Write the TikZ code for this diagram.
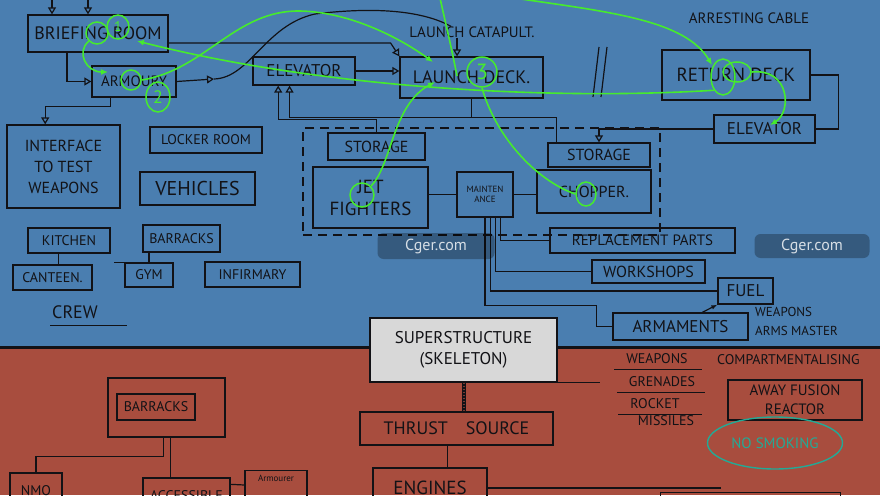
\documentclass[tikz,border=0pt]{standalone}
\usepackage{fontspec}
\setmainfont{PT Sans}
\usetikzlibrary{arrows.meta, positioning, calc, shapes.geometric}
\definecolor{DeckBlue}{RGB}{74, 126, 176}
\definecolor{HullRed}{RGB}{168, 77, 62}
\definecolor{Ink}{RGB}{18, 18, 22}
\definecolor{MarkGreen}{RGB}{70, 235, 45}
\definecolor{MarkTeal}{RGB}{35, 170, 150}
\definecolor{FrameGrey}{RGB}{216, 216, 216}
\newcommand{\handsz}[2]{\fontsize{#1}{#2}\selectfont}

\begin{document}
\begin{tikzpicture}[
        x = 1pt, y = -1pt,
        box/.style = {draw = Ink, line width = 1.3pt, inner sep = 0pt, align = center, text = Ink},
        lab/.style = {text = Ink, inner sep = 0pt, align = center},
        link/.style = {Ink, line width = 1.2pt},
        tri/.style = {link, -{Triangle[open, length = 7pt, width = 8pt, line width = 1.2pt]}},
        gline/.style = {MarkGreen, line width = 1.6pt},
        garr/.style = {gline, -{Latex[length = 7pt, width = 6pt]}},
        ring/.style = {draw = MarkGreen, line width = 1.5pt, ellipse, inner sep = 0pt, text = MarkGreen},
        wmark/.style = {fill = black, fill opacity = 0.28, text opacity = 0.8, text = white, rounded corners = 6pt, inner sep = 0pt}
    ]
        \useasboundingbox (0, 0) rectangle (880, 495);
        \clip (0, 0) rectangle (880, 495);
        \fill[DeckBlue] (0, 0) rectangle (880, 347);
        \fill[HullRed] (0, 347) rectangle (880, 495);
        \draw[Ink, line width = 3pt] (0, 347) -- (880, 347);

        % flight deck
        \node[box, minimum width = 140, minimum height = 37, font = \handsz{18}{20}] (brief) at (98, 33.5) {BRIEFING ROOM};
        \node[box, minimum width = 84, minimum height = 31, font = \handsz{15}{17}] (armoury) at (134, 81.5) {ARMOURY};
        \node[box, minimum width = 102, minimum height = 28, font = \handsz{17}{19}] (elev) at (304, 71) {ELEVATOR};
        \node[box, minimum width = 143, minimum height = 41, font = \handsz{18}{20}] (launch) at (471.5, 77.5) {LAUNCH DECK.};
        \node[lab, font = \handsz{15}{17}] (catapult) at (472, 32) {LAUNCH CATAPULT.};
        \node[box, minimum width = 148, minimum height = 50, font = \handsz{19}{21}] (retdeck) at (736, 75) {RETURN DECK};
        \node[lab, font = \handsz{15}{17}] (cable) at (749, 18) {ARRESTING CABLE};
        \node[box, minimum width = 101, minimum height = 28, font = \handsz{17}{19}] (retelev) at (764.5, 129) {ELEVATOR};

        % hangar
        \node[box, dash pattern = on 9pt off 6pt, line width = 1.1pt, minimum width = 357, minimum height = 107] (hangar) at (481.5, 181.5) {};
        \node[box, minimum width = 102, minimum height = 24, font = \handsz{16}{18}] (store2) at (599, 155) {STORAGE};
        \node[box, minimum width = 114, minimum height = 43, font = \handsz{16}{18}] (chopper) at (594, 191.5) {CHOPPER.};
        \node[box, minimum width = 97, minimum height = 27, font = \handsz{16}{18}] (store1) at (376.5, 146.5) {STORAGE};
        \node[box, minimum width = 115, minimum height = 61, font = \handsz{19}{22}] (jets) at (370.5, 197.5) {JET\\FIGHTERS};
        \node[box, minimum width = 56, minimum height = 45, font = \handsz{9}{10}] (maint) at (485, 194.5) {MAINTEN\\ANCE};
        \node[box, minimum width = 185, minimum height = 25, font = \handsz{15}{17}] (parts) at (642.5, 240.5) {REPLACEMENT PARTS};
        \node[box, minimum width = 113, minimum height = 23, font = \handsz{16}{18}] (shops) at (648.5, 271.5) {WORKSHOPS};
        \node[box, minimum width = 55, minimum height = 26, font = \handsz{17}{19}] (fuel) at (745.5, 291) {FUEL};
        \node[box, minimum width = 135, minimum height = 27, font = \handsz{17}{19}] (arms) at (680.5, 326.5) {ARMAMENTS};
        \node[lab, align = left, anchor = north west, font = \handsz{13}{19}] (master) at (755, 307) {WEAPONS\\ARMS MASTER};

        % crew
        \node[box, minimum width = 113, minimum height = 83, font = \handsz{16}{21}] (interface) at (63.5, 166.5) {INTERFACE\\TO TEST\\WEAPONS};
        \node[box, minimum width = 112, minimum height = 26, font = \handsz{14}{16}] (locker) at (206, 140) {LOCKER ROOM};
        \node[box, minimum width = 115, minimum height = 33, font = \handsz{20}{22}] (vehicles) at (197.5, 188.5) {VEHICLES};
        \node[box, minimum width = 82, minimum height = 25, font = \handsz{14}{16}] (kitchen) at (69, 240.5) {KITCHEN};
        \node[box, minimum width = 79, minimum height = 25, font = \handsz{14}{16}] (canteen) at (52.5, 277.5) {CANTEEN.};
        \node[box, minimum width = 77, minimum height = 27, font = \handsz{14}{16}] (berths) at (181.5, 238.5) {BARRACKS};
        \node[box, minimum width = 48, minimum height = 24, font = \handsz{14}{16}] (gym) at (149, 275) {GYM};
        \node[box, minimum width = 95, minimum height = 25, font = \handsz{14}{16}] (infirmary) at (252.5, 274.5) {INFIRMARY};
        \node[lab, font = \handsz{18}{20}] (crew) at (75, 312) {CREW};

        % hull
        \node[box, fill = FrameGrey, minimum width = 187, minimum height = 64, font = \handsz{17}{21}] (super) at (463.5, 350) {SUPERSTRUCTURE\\(SKELETON)};
        \node[box, minimum width = 193, minimum height = 33, font = \handsz{18}{20}] (thrust) at (456.5, 428.5) {THRUST\quad SOURCE};
        \node[box, minimum width = 114, minimum height = 40, font = \handsz{19}{21}] (engines) at (430, 488) {ENGINES};
        \node[box, minimum width = 117, minimum height = 59] (hold) at (166.5, 407.5) {};
        \node[box, minimum width = 78, minimum height = 26, font = \handsz{14}{16}] (barracks) at (156, 407) {BARRACKS};
        \node[box, minimum width = 52, minimum height = 36, font = \handsz{14}{16}] (nmo) at (36, 491) {NMO};
        \node[box, minimum width = 87, minimum height = 36, font = \handsz{14}{16}] (access) at (186.5, 496) {ACCESSIBLE};
        \node[box, minimum width = 62, anchor = north, inner ysep = 4pt, text height = 7pt, text depth = 30pt, font = \handsz{9}{10}] (armourer) at (276, 470) {Armourer};
        \node[box, minimum width = 180, minimum height = 30, anchor = north west] (lowbox) at (660, 492) {};
        \node[box, minimum width = 134, minimum height = 40, font = \handsz{15}{19}] (reactor) at (795, 400) {AWAY FUSION\\REACTOR};
        \node[ellipse, draw = MarkTeal, line width = 1.4pt, minimum width = 135, minimum height = 52, text = MarkTeal, font = \handsz{15}{17}] (nosmoke) at (775, 443) {NO SMOKING};
        \node[lab, anchor = west, font = \handsz{14}{16}] (compart) at (717, 360) {COMPARTMENTALISING};
        \node[lab, font = \handsz{14}{16}] (wpn) at (657, 359) {WEAPONS};
        \node[lab, font = \handsz{14}{16}] (gren) at (662, 382) {GRENADES};
        \node[lab, font = \handsz{14}{16}] (rock) at (655, 404) {ROCKET};
        \node[lab, font = \handsz{14}{16}] (miss) at (666, 421) {MISSILES};

        % black connectors
        \coordinate (feed1) at (52, -6);
        \coordinate (feed2) at (88, -6);
        \draw[tri] (feed1) -- (feed1 |- brief.north);
        \draw[tri] (feed2) -- (feed2 |- brief.north);
        \draw[tri] ($(brief.south west)!0.28!(brief.south east)$) |- (armoury.west);
        \draw[tri] ($(armoury.south west)!0.22!(armoury.south east)$) -- ++(0, 9) -| ($(interface.north west)!0.34!(interface.north east)$);
        \coordinate (armkink) at (214, 79);
        \draw[tri] (armoury.east) -- (armkink);
        \draw[link] (armkink) .. controls (250, 78) and (265, 25) .. (315, 14) .. controls (380, 6) and (425, 12) .. (catapult.165);
        \draw[tri] ($(brief.north east)!0.75!(brief.south east)$) -- ++(222, 0) -- (launch.north west);
        \coordinate (cattip) at ($(launch.north west)!0.4!(launch.north east)$);
        \draw[tri] (cattip |- catapult.south) -- (cattip);
        \draw[tri] (elev.east) -- (elev.east -| launch.west);
        \coordinate (deckjoin) at ($(launch.south)+(0, 19)$);
        \draw[link] (launch.south) -- (deckjoin);
        \draw[tri] ($(store2.north west)!0.09!(store2.north east)$) |- (deckjoin) -| ($(elev.south west)!0.36!(elev.south east)$);
        \draw[tri] (store1.north) -- ++(0, -13) -| ($(elev.south west)!0.25!(elev.south east)$);
        \draw[link] (retdeck.east) -- ++(28, 0) |- (retelev.east);
        \draw[tri] (retelev.west) -| (store2.north);
        \draw[link] (593, 97) -- (599, 47);
        \draw[link] (601, 97) -- (607, 47);

        \draw[link] (maint.west) -- (maint.west -| jets.east);
        \draw[link] (maint.east) -- (maint.east -| chopper.west);
        \draw[link] ($(maint.south west)!0.77!(maint.south east)$) |- (parts.west);
        \draw[link] ($(maint.south west)!0.68!(maint.south east)$) |- (shops.west);
        \draw[link] ($(maint.south west)!0.59!(maint.south east)$) |- (fuel.west);
        \draw[link] (maint.south) -- ++(0, 88) -| ($(arms.west)+(-16, 0)$) -- (arms.west);
        \draw[link, -{Latex[length = 6pt]}] ($(arms.north west)!0.66!(arms.north east)$) -- (fuel.south west);

        \draw[link] ($(kitchen.south west)!0.37!(kitchen.south east)$) |- (canteen.north);
        \draw[link] (berths.south -| gym.north) -- (gym.north);
        \draw[link] ($(gym.north west)+(-10, 0)$) -- (gym.north east);
        \draw[link] (crew.south west) ++(-2, 7) -- ++(77, 0);

        \draw[Ink, line width = 4pt] (super.south) -- (super.south |- thrust.north);
        \draw[HullRed!70!Ink, line width = 2pt, dash pattern = on 1.5pt off 1.5pt] (super.south) -- (super.south |- thrust.north);
        \draw[link] (super.south east) -- ++(42, 0);
        \draw[link] ($(thrust.south)+(-9, 0)$) -- ++(0, 23);
        \draw[link] (engines.east) -- ++(233, 0);
        \coordinate (holdl) at ($(hold.south)+(-3, 0)$);
        \draw[link] (holdl) -- ++(0, 19) -| (nmo.north);
        \coordinate (holdr) at ($(hold.south)+(4, 0)$);
        \draw[link] (holdr) -- (holdr |- access.north);
        \draw[link] ($(access.north east)+(0, 7)$) -- ($(armourer.north west)+(0, 15)$);

        \draw[link] (wpn.south west) ++(-12, 5) -- ++(88, 0);
        \draw[link] (gren.south west) ++(-12, 5) -- ++(88, 0);
        \draw[link] (rock.south west) ++(-12, 5) -- ++(84, 0);

        % green marks
        \node[ring, minimum width = 22, minimum height = 22] (gb) at (97, 33) {};
        \node[ring, minimum width = 22, minimum height = 24, font = \handsz{14}{14}] (g1) at (118, 27) {1};
        \node[ring, minimum width = 20, minimum height = 20] (ga) at (131, 80) {};
        \node[ring, minimum width = 24, minimum height = 30, font = \handsz{18}{18}] (g2) at (158, 97) {2};
        \node[ring, minimum width = 30, minimum height = 30, font = \handsz{22}{22}] (g3) at (482, 72) {3};
        \node[ring, minimum width = 24, minimum height = 36] (gr) at (723, 77) {};
        \node[ring, minimum width = 28, minimum height = 20] (gr2) at (737, 72) {};
        \node[ring, minimum width = 24, minimum height = 24] (gj) at (362, 195) {};
        \node[ring, minimum width = 20, minimum height = 24] (gc) at (586, 194) {};

        \coordinate (brief-in) at (137, 41);
        \coordinate (arm-in) at (108, 72);
        \coordinate (deck-in) at (433, 62);
        \coordinate (deck-in2) at (435, 82);
        \coordinate (ret-in) at (712, 65);
        \coordinate (elev-in) at (770, 125);
        \coordinate (top1) at (440, -2);
        \coordinate (top1end) at (457, 76);
        \coordinate (top2) at (514, -2);

        \draw[garr] (gb.south west) .. controls (76, 52) and (86, 72) .. (arm-in);
        \draw[garr] (ga.east) .. controls (205, 70) and (235, 10) .. (300, 11) .. controls (350, 12) and (400, 38) .. (deck-in);
        \draw[garr] (top2) .. controls (610, 12) and (685, 20) .. (ret-in);
        \draw[garr] (gr.south west) .. controls (560, 100) and (330, 90) .. (brief-in);
        \draw[gline] (g3.south) .. controls (495, 135) and (535, 180) .. (gc.west);
        \draw[garr] (gj.north east) .. controls (392, 165) and (392, 105) .. (deck-in2);
        \draw[garr] (gr2.east) .. controls (790, 68) and (792, 112) .. (elev-in);
        \draw[gline] (top1) .. controls (446, 25) and (452, 50) .. (top1end);

        % watermarks
        \node[wmark, minimum width = 117, minimum height = 26, font = \handsz{16}{16}] (wm1) at (436, 246) {Cger.com};
        \node[wmark, minimum width = 115, minimum height = 24, font = \handsz{16}{16}] (wm2) at (812, 246) {Cger.com};
    \end{tikzpicture}
\end{document}
